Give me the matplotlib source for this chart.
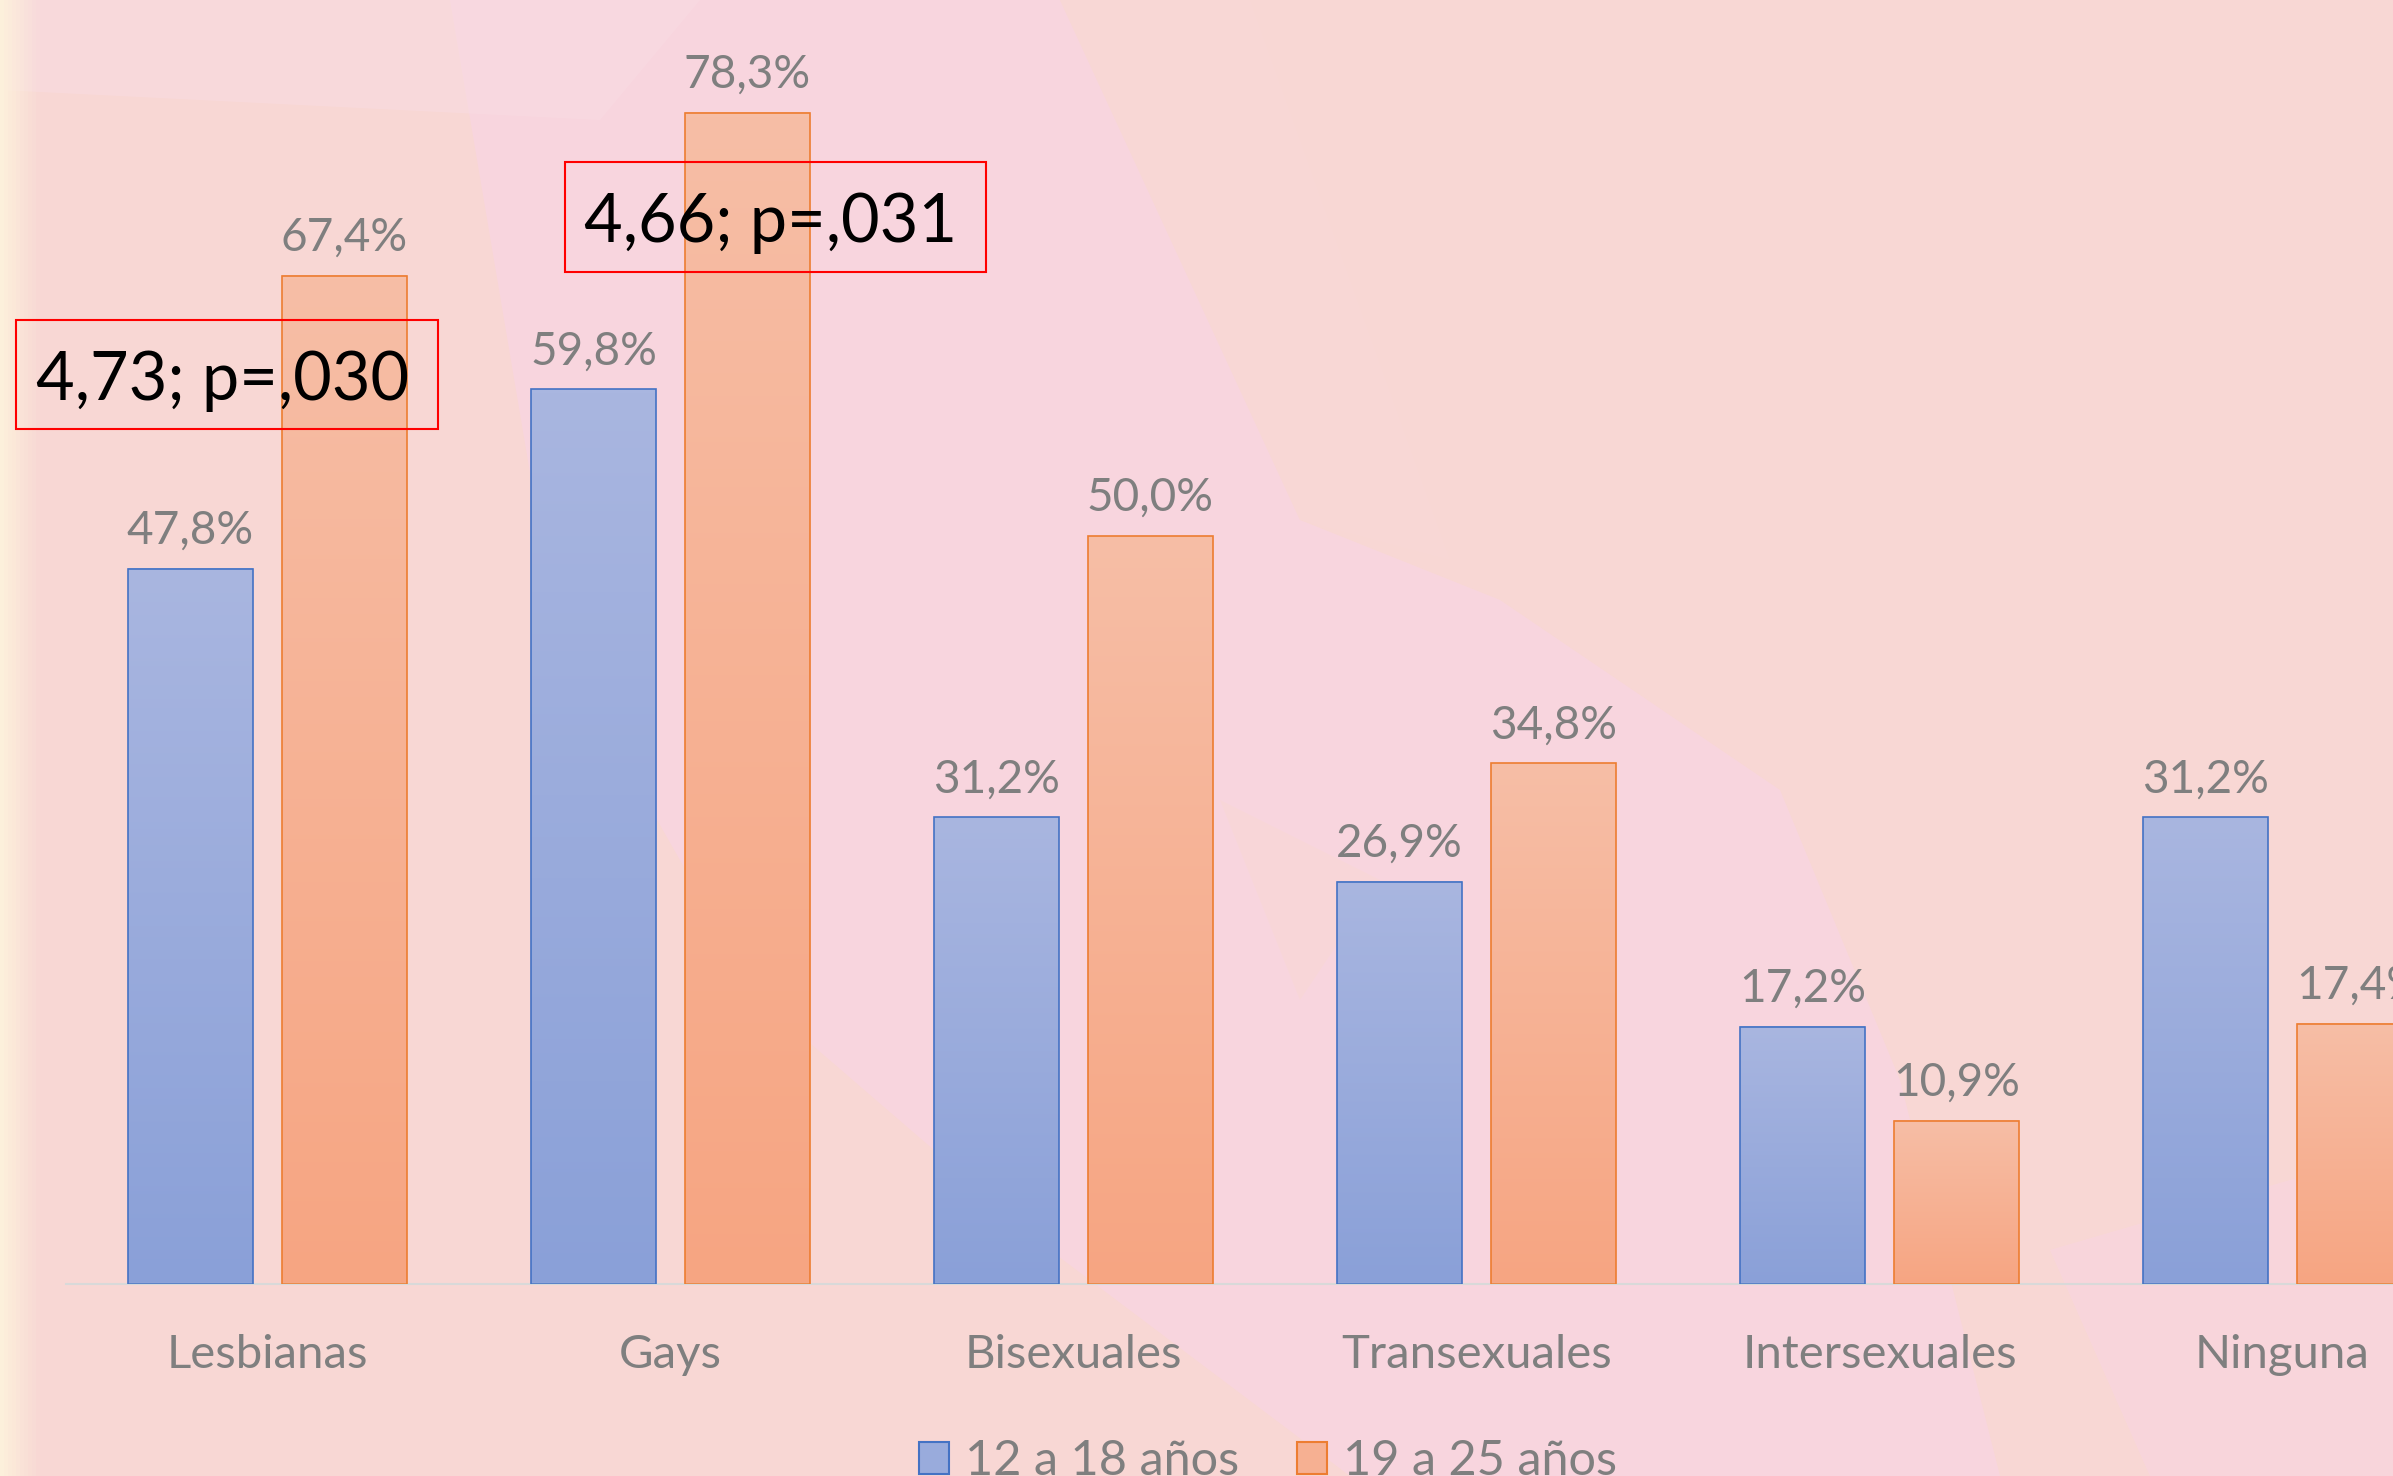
import numpy as np
import matplotlib
matplotlib.use("Agg")
import matplotlib.pyplot as plt
from matplotlib.patches import Polygon, Rectangle, Patch
from matplotlib.colors import LinearSegmentedColormap

plt.rcParams['font.family'] = ['Lato', 'DejaVu Sans']

# data
categorias = ["Lesbianas", "Gays", "Bisexuales", "Transexuales", "Intersexuales", "Ninguna"]
serie_12_18 = [47.8, 59.8, 31.2, 26.9, 17.2, 31.2]
serie_19_25 = [67.4, 78.3, 50.0, 34.8, 10.9, 17.4]
leyenda = ["12 a 18 años", "19 a 25 años"]
notas = ["4,73; p=,030", "4,66; p=,031"]

W, H = 2393, 1476
fig = plt.figure(figsize=(W / 100, H / 100), dpi=100)

# background (pink picture behind the chart)
bg = fig.add_axes([0, 0, 1, 1], zorder=-5)
bg.set_xlim(0, W)
bg.set_ylim(H, 0)
bg.axis("off")
bg.add_patch(Rectangle((0, 0), W, H, color="#F8D7D4"))
lila = "#F9D4E8"
bg.add_patch(Polygon([(450, 0), (1060, 0), (1300, 520), (1500, 600), (1780, 790),
                      (1900, 1080), (2000, 1476), (1350, 1476), (1050, 1250),
                      (760, 1000), (560, 650)], color=lila, alpha=0.5, lw=0))
bg.add_patch(Polygon([(1060, 0), (1300, 520), (1450, 560), (1250, 0)],
                     color="#F9D8D6", alpha=0.6, lw=0))
bg.add_patch(Polygon([(1220, 800), (1380, 880), (1300, 1000)],
                     color="#F8D8D4", alpha=0.6, lw=0))
bg.add_patch(Polygon([(2050, 1250), (2393, 1150), (2393, 1476), (2150, 1476)],
                     color=lila, alpha=0.4, lw=0))
bg.add_patch(Polygon([(0, 0), (700, 0), (600, 120), (0, 90)],
                     color="#F9DCE3", alpha=0.5, lw=0))
# cream strip at the left edge
for i, a in enumerate(np.linspace(0.9, 0.05, 10)):
    bg.add_patch(Rectangle((i * 4, 0), 4, H, color="#FDF3DC", alpha=a, lw=0))

# main plot
x0, x1 = 66, 2484
ax = fig.add_axes([x0 / W, (H - 1284) / H, (x1 - x0) / W, 1284 / H])
ax.patch.set_alpha(0)
ymax = 85.83

cmap_azul = LinearSegmentedColormap.from_list("azul", ["#8AA0D8", "#A9B6E0"])
cmap_nar = LinearSegmentedColormap.from_list("nar", ["#F6A582", "#F7BEA6"])
grad = np.linspace(0, 1, 256).reshape(-1, 1)

x = np.arange(len(categorias))
ancho = 0.31
desp = 0.191
for vals, off, cmap, borde in [(serie_12_18, -desp, cmap_azul, "#4472C4"),
                               (serie_19_25, desp, cmap_nar, "#ED7D31")]:
    for xi, v in zip(x, vals):
        xl = xi + off - ancho / 2
        ax.imshow(grad, extent=[xl, xl + ancho, 0, v], origin="lower",
                  aspect="auto", cmap=cmap, zorder=2)
    ax.bar(x + off, vals, ancho, facecolor="none", edgecolor=borde,
           linewidth=1.2, zorder=3)
    for xi, v in zip(x, vals):
        ax.annotate(f"{v:.1f}%".replace(".", ","), (xi + off, v),
                    xytext=(0, 18), textcoords="offset points",
                    ha="center", va="baseline", fontsize=33, color="#7F7F7F")

ax.set_xlim(-0.5, len(categorias) - 0.5)
ax.set_ylim(0, ymax)
ax.set_xticks(x, categorias)
ax.tick_params(axis="x", length=0, pad=36, labelsize=34, labelcolor="#7F7F7F")
ax.set_yticks([])
for s in ["top", "right", "left"]:
    ax.spines[s].set_visible(False)
ax.spines["bottom"].set_color("#D9D9D9")
ax.spines["bottom"].set_linewidth(1.5)

# chi-square boxes
cajas = [(16, 320, 422, 109, 36, 400), (565, 162, 421, 110, 584, 242)]
for nota, (bx, by, bw, bh, tx, ty) in zip(notas, cajas):
    fig.add_artist(Rectangle((bx / W, 1 - (by + bh) / H), bw / W, bh / H,
                             transform=fig.transFigure, facecolor="none",
                             edgecolor="#FF0000", linewidth=1.5))
    fig.text(tx / W, 1 - ty / H, nota, fontsize=48, color="black",
             ha="left", va="baseline")

handles = [Patch(facecolor="#99ABDC", edgecolor="#4472C4", linewidth=1.5),
           Patch(facecolor="#F6B092", edgecolor="#ED7D31", linewidth=1.5)]
fig.legend(handles, leyenda, loc="upper center",
           bbox_to_anchor=(1268 / W, 1 - 1439 / H), ncol=2, frameon=False,
           fontsize=35, labelcolor="#7F7F7F", handlelength=0.62,
           handleheight=0.62, handletextpad=0.33, columnspacing=1.2,
           borderpad=0, borderaxespad=0)

fig.savefig("out.png", dpi=100)
